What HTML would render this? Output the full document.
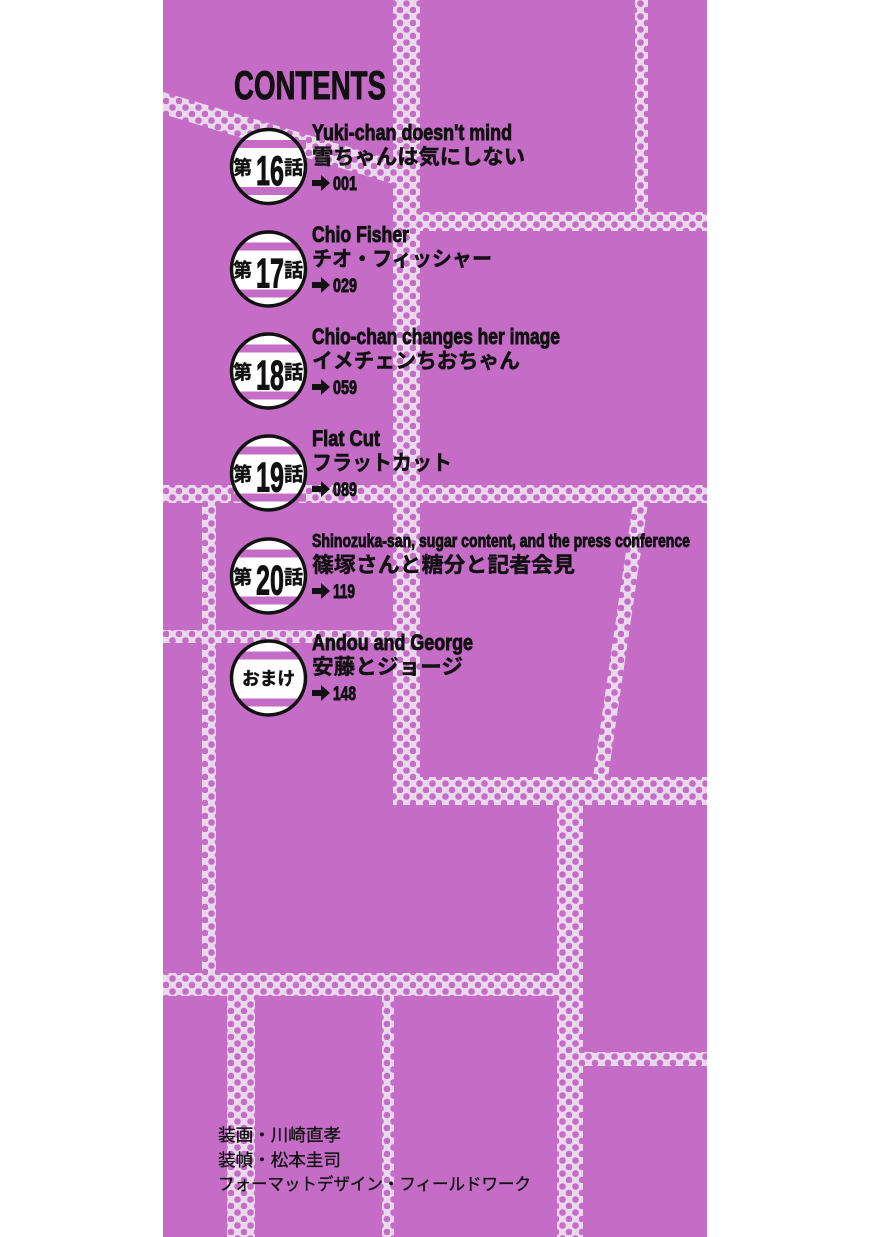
<!DOCTYPE html>
<html><head><meta charset="utf-8"><style>
html,body{margin:0;padding:0;background:#fff;}
svg{display:block;}
.en{font-family:"Liberation Sans",sans-serif;font-weight:bold;fill:#111;stroke:#111;stroke-width:0.9;}
.jp{font-family:"Liberation Sans","Noto Sans CJK JP",sans-serif;font-weight:bold;fill:#111;stroke:#111;stroke-width:0.4;}
.cr{font-family:"Liberation Sans","Noto Sans CJK JP",sans-serif;fill:#111;stroke:#111;stroke-width:0.35;}
</style></head><body>
<svg width="870" height="1237" viewBox="0 0 870 1237" xmlns="http://www.w3.org/2000/svg">
<defs>
<pattern id="dots" patternUnits="userSpaceOnUse" width="13" height="13">
<rect width="13" height="13" fill="#ead8ec"/>
<circle cx="3.5" cy="3.5" r="3.3" fill="#c46cc6"/>
<circle cx="10" cy="10" r="3.3" fill="#c46cc6"/>
</pattern>
<g id="arrow"><path d="M0,-3 L9,-3 L9,-8 L18,0 L9,8 L9,3 L0,3 Z" fill="#111"/></g>
</defs>
<rect x="163" y="0" width="544" height="1237" fill="#c46cc6"/>
<g fill="url(#dots)">
<rect x="393" y="0" width="27" height="805"/>
<rect x="635" y="0" width="13" height="212"/>
<rect x="420" y="212" width="287" height="19"/>
<polygon points="163,92 393,160 393,184 163,114"/>
<rect x="163" y="485" width="544" height="18"/>
<rect x="202" y="503" width="14" height="475"/>
<rect x="163" y="630" width="230" height="13"/>
<polygon points="633,503 648,503 608,777 593,777"/>
<rect x="393" y="777" width="314" height="28"/>
<rect x="557" y="805" width="26" height="432"/>
<rect x="163" y="973" width="420" height="23"/>
<rect x="227" y="996" width="28" height="241"/>
<rect x="382" y="996" width="12" height="241"/>
<rect x="583" y="1052" width="124" height="14"/>
</g>
<text x="234" y="99" class="en" font-size="40" stroke-width="1.4" textLength="152" lengthAdjust="spacingAndGlyphs">CONTENTS</text>

<g>
<circle cx="268.5" cy="166.5" r="37" fill="#fff"/>
<rect x="231" y="140" width="75" height="8" fill="#c46cc6"/>
<rect x="231" y="187" width="75" height="8" fill="#c46cc6"/>
<circle cx="268.5" cy="166.5" r="37" fill="none" stroke="#111" stroke-width="3.5"/>
<text x="233" y="174" class="jp" font-size="19">第</text>
<text x="256" y="185" class="en" font-size="42" stroke-width="1.6" textLength="28" lengthAdjust="spacingAndGlyphs">16</text>
<text x="284" y="174" class="jp" font-size="19">話</text>
</g>
<g>
<circle cx="268.5" cy="269" r="37" fill="#fff"/>
<rect x="231" y="242.5" width="75" height="8" fill="#c46cc6"/>
<rect x="231" y="289.5" width="75" height="8" fill="#c46cc6"/>
<circle cx="268.5" cy="269" r="37" fill="none" stroke="#111" stroke-width="3.5"/>
<text x="233" y="276.5" class="jp" font-size="19">第</text>
<text x="256" y="287.5" class="en" font-size="42" stroke-width="1.6" textLength="28" lengthAdjust="spacingAndGlyphs">17</text>
<text x="284" y="276.5" class="jp" font-size="19">話</text>
</g>
<g>
<circle cx="268.5" cy="371" r="37" fill="#fff"/>
<rect x="231" y="344.5" width="75" height="8" fill="#c46cc6"/>
<rect x="231" y="391.5" width="75" height="8" fill="#c46cc6"/>
<circle cx="268.5" cy="371" r="37" fill="none" stroke="#111" stroke-width="3.5"/>
<text x="233" y="378.5" class="jp" font-size="19">第</text>
<text x="256" y="389.5" class="en" font-size="42" stroke-width="1.6" textLength="28" lengthAdjust="spacingAndGlyphs">18</text>
<text x="284" y="378.5" class="jp" font-size="19">話</text>
</g>
<g>
<circle cx="268.5" cy="473" r="37" fill="#fff"/>
<rect x="231" y="446.5" width="75" height="8" fill="#c46cc6"/>
<rect x="231" y="493.5" width="75" height="8" fill="#c46cc6"/>
<circle cx="268.5" cy="473" r="37" fill="none" stroke="#111" stroke-width="3.5"/>
<text x="233" y="480.5" class="jp" font-size="19">第</text>
<text x="256" y="491.5" class="en" font-size="42" stroke-width="1.6" textLength="28" lengthAdjust="spacingAndGlyphs">19</text>
<text x="284" y="480.5" class="jp" font-size="19">話</text>
</g>
<g>
<circle cx="268.5" cy="576" r="37" fill="#fff"/>
<rect x="231" y="549.5" width="75" height="8" fill="#c46cc6"/>
<rect x="231" y="596.5" width="75" height="8" fill="#c46cc6"/>
<circle cx="268.5" cy="576" r="37" fill="none" stroke="#111" stroke-width="3.5"/>
<text x="233" y="583.5" class="jp" font-size="19">第</text>
<text x="256" y="594.5" class="en" font-size="42" stroke-width="1.6" textLength="28" lengthAdjust="spacingAndGlyphs">20</text>
<text x="284" y="583.5" class="jp" font-size="19">話</text>
</g>
<g>
<circle cx="268.5" cy="678" r="37" fill="#fff"/>
<rect x="231" y="651.5" width="75" height="8" fill="#c46cc6"/>
<rect x="231" y="698.5" width="75" height="8" fill="#c46cc6"/>
<circle cx="268.5" cy="678" r="37" fill="none" stroke="#111" stroke-width="3.5"/>
<text x="242" y="685" class="jp" font-size="18" textLength="53" lengthAdjust="spacingAndGlyphs">おまけ</text>
</g>

<text x="312" y="140" class="en" font-size="22" textLength="200" lengthAdjust="spacingAndGlyphs">Yuki-chan doesn't mind</text>
<text x="312" y="164" class="jp" font-size="21" textLength="213" lengthAdjust="spacingAndGlyphs">雪ちゃんは気にしない</text>
<use href="#arrow" x="312" y="183"/>
<text x="333" y="190" class="en" font-size="19" stroke-width="0.5" textLength="24" lengthAdjust="spacingAndGlyphs">001</text>

<text x="312" y="242" class="en" font-size="22" textLength="97" lengthAdjust="spacingAndGlyphs">Chio Fisher</text>
<text x="312" y="266" class="jp" font-size="21" textLength="180" lengthAdjust="spacingAndGlyphs">チオ・フィッシャー</text>
<use href="#arrow" x="312" y="285"/>
<text x="333" y="292" class="en" font-size="19" stroke-width="0.5" textLength="24" lengthAdjust="spacingAndGlyphs">029</text>

<text x="312" y="344" class="en" font-size="22" textLength="248" lengthAdjust="spacingAndGlyphs">Chio-chan changes her image</text>
<text x="312" y="368" class="jp" font-size="21" textLength="208" lengthAdjust="spacingAndGlyphs">イメチェンちおちゃん</text>
<use href="#arrow" x="312" y="387"/>
<text x="333" y="394" class="en" font-size="19" stroke-width="0.5" textLength="24" lengthAdjust="spacingAndGlyphs">059</text>

<text x="312" y="446" class="en" font-size="22" textLength="68" lengthAdjust="spacingAndGlyphs">Flat Cut</text>
<text x="312" y="470" class="jp" font-size="21" textLength="140" lengthAdjust="spacingAndGlyphs">フラットカット</text>
<use href="#arrow" x="312" y="489"/>
<text x="333" y="496" class="en" font-size="19" stroke-width="0.5" textLength="24" lengthAdjust="spacingAndGlyphs">089</text>

<text x="312" y="547" class="en" font-size="18" stroke-width="0.7" textLength="378" lengthAdjust="spacingAndGlyphs">Shinozuka-san, sugar content, and the press conference</text>
<text x="312" y="572" class="jp" font-size="21" textLength="263" lengthAdjust="spacingAndGlyphs">篠塚さんと糖分と記者会見</text>
<use href="#arrow" x="312" y="591"/>
<text x="333" y="598" class="en" font-size="19" stroke-width="0.5" textLength="22" lengthAdjust="spacingAndGlyphs">119</text>

<text x="312" y="650" class="en" font-size="22" textLength="161" lengthAdjust="spacingAndGlyphs">Andou and George</text>
<text x="312" y="674" class="jp" font-size="21" textLength="151" lengthAdjust="spacingAndGlyphs">安藤とジョージ</text>
<use href="#arrow" x="312" y="693"/>
<text x="333" y="700" class="en" font-size="19" stroke-width="0.5" textLength="23" lengthAdjust="spacingAndGlyphs">148</text>

<text x="218" y="1141" class="cr" font-size="17" textLength="123" lengthAdjust="spacingAndGlyphs">装画・川崎直孝</text>
<text x="218" y="1166" class="cr" font-size="17" textLength="123" lengthAdjust="spacingAndGlyphs">装幀・松本圭司</text>
<text x="218" y="1190" class="cr" font-size="17" textLength="313" lengthAdjust="spacingAndGlyphs">フォーマットデザイン・フィールドワーク</text>
</svg>
</body></html>
